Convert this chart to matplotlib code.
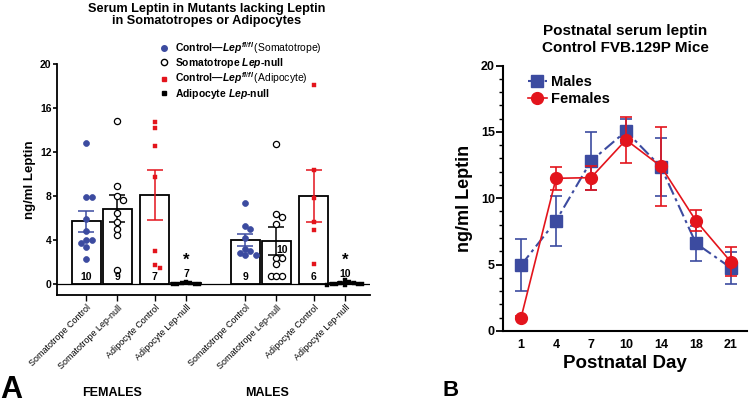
import numpy as np
import matplotlib
matplotlib.use('Agg')
import matplotlib.pyplot as plt
from matplotlib.lines import Line2D
from matplotlib.ticker import MultipleLocator

plt.rcParams['font.family'] = 'Liberation Sans'
plt.rcParams['mathtext.fontset'] = 'custom'
plt.rcParams['mathtext.it'] = 'Liberation Sans:italic:bold'
plt.rcParams['mathtext.rm'] = 'Liberation Sans'
plt.rcParams['mathtext.bf'] = 'Liberation Sans:bold'

BLUE = '#3c4ba0'
RED = '#e3141c'

# ---- panel A data (ng/ml leptin, individual mice) ----
groups = ['Somatotrope Control', 'Somatotrope Lep-null',
          'Adipocyte Control', 'Adipocyte Lep-null'] * 2
fem_soma_ctrl = [12.8, 7.9, 7.9, 5.9, 4.8, 4.0, 4.0, 3.7, 3.4, 2.3]
fem_soma_null = [14.8, 8.9, 8.0, 7.6, 6.5, 5.6, 5.0, 4.5, 1.3]
fem_adipo_ctrl = [14.7, 14.2, 12.5, 9.7, 3.0, 1.7, 1.5]
fem_adipo_null = [0.15, 0.1, 0.08, 0.05, 0.05, 0.02, 0.0]
male_soma_ctrl = [7.4, 5.3, 5.0, 4.2, 3.2, 3.0, 2.8, 2.6, 2.6]
male_soma_null = [12.7, 6.4, 6.1, 5.5, 2.4, 2.4, 1.8, 0.7, 0.7, 0.7]
male_adipo_ctrl = [18.1, 10.4, 7.8, 5.6, 4.9, 1.8]
male_adipo_null = [0.35, 0.2, 0.1, 0.1, 0.05, 0.05, 0.0, 0.0, -0.05, -0.1]
bar_means = [5.7, 6.85, 8.1, 0.07, 4.0, 3.9, 8.0, 0.1]
bar_sems = [0.95, 1.25, 2.25, 0.03, 0.55, 1.25, 2.35, 0.05]
n_mice = [10, 9, 7, 7, 9, 10, 6, 10]

# ---- panel B data ----
days = ['1', '4', '7', '10', '14', '18', '21']
male_mean = [4.95, 8.3, 12.8, 15.05, 12.35, 6.6, 4.75]
male_sem = [1.95, 1.9, 2.2, 0.9, 2.2, 1.3, 1.2]
female_mean = [1.0, 11.5, 11.55, 14.4, 12.4, 8.3, 5.2]
female_sem = [0.1, 0.85, 0.9, 1.75, 2.95, 0.8, 1.1]


def swarm(vals, step, dmin, xpx=31.0, ypx=11.0):
    # simple deterministic beeswarm offsets
    placed = []
    offs = np.zeros(len(vals))
    order = np.argsort(vals)[::-1]
    for i in order:
        v = vals[i]
        for k in [0, 1, -1, 2, -2, 3, -3, 4, -4, 5, -5]:
            x = k * step
            if all(((x - px) * xpx) ** 2 + ((v - pv) * ypx) ** 2 >= dmin ** 2
                   for px, pv in placed):
                break
        placed.append((x, v))
        offs[i] = x
    return offs


fig = plt.figure(figsize=(7.5, 4.07), dpi=100)

# ================= panel A =================
axA = fig.add_axes([0.076, 0.275, 0.417, 0.568])
pos = np.array([0, 1, 2.2, 3.2, 5.1, 6.1, 7.3, 8.3])
points = [fem_soma_ctrl, fem_soma_null, fem_adipo_ctrl, fem_adipo_null,
          male_soma_ctrl, male_soma_null, male_adipo_ctrl, male_adipo_null]
styles = [dict(marker='o', facecolor=BLUE, edgecolor=BLUE, s=18, linewidths=0.5),
          dict(marker='o', facecolor='white', edgecolor='black', s=20, linewidths=0.9),
          dict(marker='s', facecolor=RED, edgecolor=RED, s=12, linewidths=0.3),
          dict(marker='s', facecolor='black', edgecolor='black', s=6, linewidths=0.3)]
ecolors = [BLUE, 'black', RED, 'black']
spacing = [(0.17, 5.0), (0.18, 5.5), (0.17, 4.5), (0.14, 4.0)]

axA.bar(pos, bar_means, width=0.94, color='white', edgecolor='black',
        linewidth=1.3, zorder=1)
axA.axhline(0, color='black', lw=0.9, zorder=2)
for i in range(8):
    k = i % 4
    axA.errorbar(pos[i], bar_means[i], yerr=bar_sems[i], color=ecolors[k],
                 capsize=6, elinewidth=1.1, capthick=1.1, zorder=3)
    vals = np.array(points[i])
    offs = swarm(vals, *spacing[k])
    axA.scatter(pos[i] + offs, vals, zorder=4, clip_on=False, **styles[k])

for i in range(8):
    if i == 5:
        axA.text(pos[i] + 0.2, 3.1, str(n_mice[i]), ha='center', va='center',
                 fontsize=7.5, fontweight='bold', zorder=5)
    elif i % 4 == 3:
        axA.text(pos[i], 0.95, str(n_mice[i]), ha='center', va='center',
                 fontsize=7.5, fontweight='bold')
        axA.text(pos[i], 2.2, '*', ha='center', va='center',
                 fontsize=12, fontweight='bold')
    else:
        axA.text(pos[i], 0.6, str(n_mice[i]), ha='center', va='center',
                 fontsize=7.5, fontweight='bold', zorder=5)

axA.set_xlim(-0.94, 9.1)
axA.set_ylim(-1, 20)
axA.spines['top'].set_visible(False)
axA.spines['right'].set_visible(False)
axA.spines['left'].set_linewidth(1.3)
axA.spines['bottom'].set_linewidth(1.3)
axA.set_yticks([0, 4, 8, 12, 16, 20])
axA.tick_params(axis='y', direction='out', length=3, width=1.2, labelsize=7.5, pad=1)
for t in axA.get_yticklabels():
    t.set_fontweight('bold')
axA.set_xticks(pos)
axA.set_xticklabels(groups, rotation=45, ha='right', rotation_mode='anchor',
                    fontsize=6.5)
axA.tick_params(axis='x', direction='out', length=4, width=1.0, pad=2)
axA.set_ylabel('ng/ml Leptin', fontsize=9.5, fontweight='bold', labelpad=3)

handles = [Line2D([], [], ls='none', marker='o', color=BLUE, ms=4),
           Line2D([], [], ls='none', marker='o', mfc='white', mec='black', ms=4.5),
           Line2D([], [], ls='none', marker='s', color=RED, ms=3.5),
           Line2D([], [], ls='none', marker='s', color='black', ms=3)]
labels = [r'Control—$Lep^{fl/fl}\,\mathrm{(Somatotrope)}$',
          r'Somatotrope $Lep$-null',
          r'Control—$Lep^{fl/fl}\,\mathrm{(Adipocyte)}$',
          r'Adipocyte $Lep$-null']
leg = axA.legend(handles, labels, loc='upper left', bbox_to_anchor=(0.205, 0.915),
                 bbox_transform=fig.transFigure, frameon=False,
                 handlelength=1.0, handletextpad=0.5, labelspacing=0.05,
                 borderpad=0, prop={'weight': 'bold', 'size': 7.5})

fig.text(0.276, 0.993, 'Serum Leptin in Mutants lacking Leptin\nin Somatotropes or Adipocytes',
         ha='center', va='top', fontsize=9.2, fontweight='bold', linespacing=1.05)
fig.text(0.149, 0.035, 'FEMALES', ha='center', va='center', fontsize=9, fontweight='bold')
fig.text(0.356, 0.035, 'MALES', ha='center', va='center', fontsize=9, fontweight='bold')
fig.text(0.0, 0.005, 'A', ha='left', va='bottom', fontsize=22, fontweight='bold')

# ================= panel B =================
axB = fig.add_axes([0.671, 0.187, 0.325, 0.652])
x = np.arange(len(days))
axB.errorbar(x, male_mean, yerr=male_sem, color=BLUE, marker='s', ms=8,
             ls=(0, (6, 2, 1.5, 2)), lw=1.5, capsize=4, elinewidth=1.2,
             capthick=1.2, zorder=3)
axB.errorbar(x, female_mean, yerr=female_sem, color=RED, marker='o', ms=8.5,
             ls='-', lw=1.2, capsize=4, elinewidth=1.2, capthick=1.2, zorder=4)
axB.set_xlim(-0.51, 6.46)
axB.set_ylim(0, 20)
axB.set_xticks(x)
axB.set_xticklabels(days, fontsize=9, fontweight='bold')
axB.yaxis.set_major_locator(MultipleLocator(5))
axB.yaxis.set_minor_locator(MultipleLocator(1))
axB.tick_params(axis='y', which='major', direction='out', length=5, width=1.3,
                labelsize=9, pad=1)
axB.tick_params(axis='y', which='minor', direction='out', length=3, width=1.0)
axB.tick_params(axis='x', length=0, pad=6)
for t in axB.get_yticklabels():
    t.set_fontweight('bold')
axB.spines['top'].set_visible(False)
axB.spines['right'].set_visible(False)
axB.spines['left'].set_linewidth(1.5)
axB.spines['bottom'].set_linewidth(1.5)
axB.set_xlabel('Postnatal Day', fontsize=13.5, fontweight='bold', labelpad=3)
axB.set_ylabel('ng/ml Leptin', fontsize=13, fontweight='bold', labelpad=6)
axB.set_title('Postnatal serum leptin\nControl FVB.129P Mice', fontsize=11,
              fontweight='bold', pad=10, linespacing=1.2)
bh = [Line2D([], [], color=BLUE, marker='s', ms=8, ls=(0, (6, 2, 1.5, 2)), lw=1.5),
      Line2D([], [], color=RED, marker='o', ms=8.5, ls='-', lw=1.2)]
axB.legend(bh, ['Males', 'Females'], loc='upper left', bbox_to_anchor=(0.07, 0.99),
           frameon=False, handlelength=1.3, handletextpad=0.3, labelspacing=0.15,
           borderpad=0, prop={'weight': 'bold', 'size': 10.5})
fig.text(0.59, 0.015, 'B', ha='left', va='bottom', fontsize=16, fontweight='bold')

fig.savefig('out.png', dpi=100)
